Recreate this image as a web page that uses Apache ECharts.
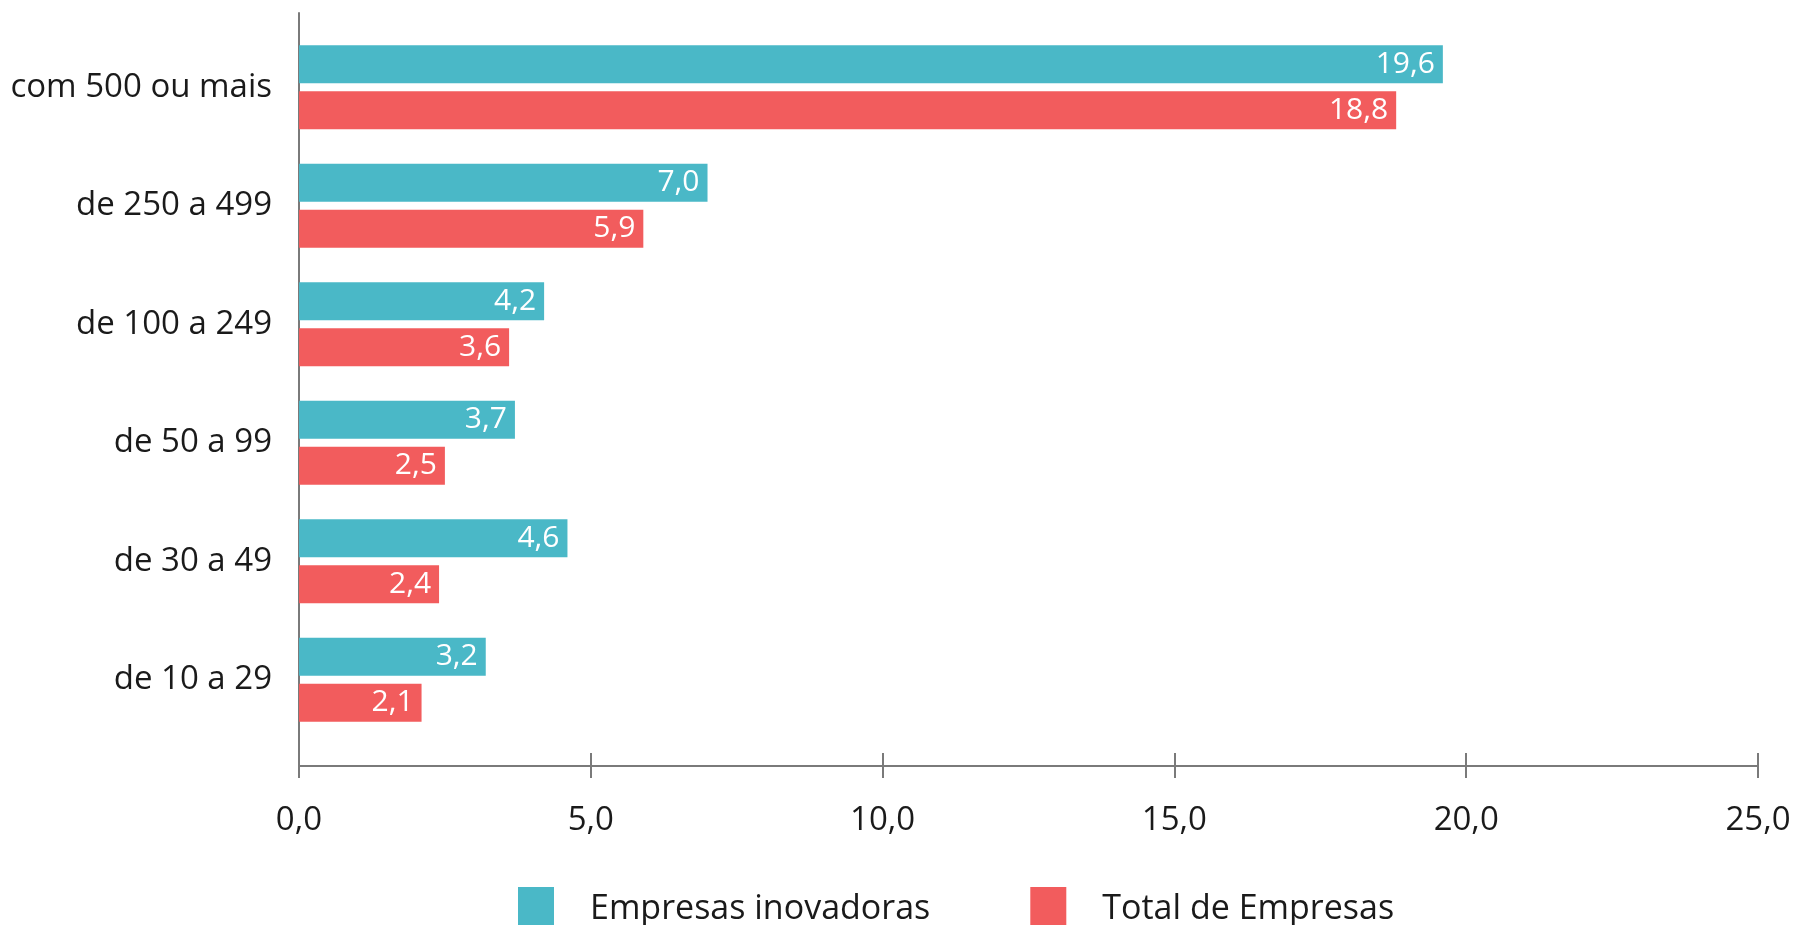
<!DOCTYPE html>
<html>
<head>
<meta charset="utf-8">
<script src="https://cdn.jsdelivr.net/npm/echarts@6/dist/echarts.min.js"></script>
<style>
html,body{margin:0;padding:0;background:#fff;}
#chart{width:1800px;height:925px;}
</style>
</head>
<body>
<div id="chart"></div>
<script>
const categories = ['com 500 ou mais', 'de 250 a 499', 'de 100 a 249', 'de 50 a 99', 'de 30 a 49', 'de 10 a 29'];
const inovadoras = [19.6, 7.0, 4.2, 3.7, 4.6, 3.2];
const totalEmpresas = [18.8, 5.9, 3.6, 2.5, 2.4, 2.1];
const tickLabels = ['0,0', '5,0', '10,0', '15,0', '20,0', '25,0'];
const seriesNames = ['Empresas inovadoras', 'Total de Empresas'];

const FONT = '"Open Sans", "Noto Sans", sans-serif';
const AXIS_COLOR = '#7a7a7a';
const TEAL = '#4ab8c7';
const RED = '#f25c5d';

function fmt(v) { return v.toFixed(1).replace('.', ','); }

const chart = echarts.init(document.getElementById('chart'), null, {renderer: 'canvas'});

const barLabel = {
  show: true,
  position: 'insideRight',
  distance: 8,
  color: '#ffffff',
  fontFamily: FONT,
  fontSize: 30,
  formatter: p => fmt(p.value)
};

chart.setOption({
  animation: false,
  backgroundColor: '#ffffff',
  grid: [
    {left: 299, right: 42, top: 28, height: 711},
    {left: 299, right: 42, top: 13, height: 753}
  ],
  xAxis: [
    {gridIndex: 0, type: 'value', min: 0, max: 25, interval: 5, show: false},
    {
      gridIndex: 1, type: 'value', min: 0, max: 25, interval: 5, position: 'bottom',
      axisLine: {show: true, lineStyle: {color: AXIS_COLOR, width: 2}},
      axisTick: {show: true, inside: false, length: 12, lineStyle: {color: AXIS_COLOR, width: 2}},
      axisLabel: {
        show: true, margin: 38, color: '#1a1a1a', fontFamily: FONT, fontSize: 33,
        formatter: v => tickLabels[Math.round(v / 5)]
      },
      splitLine: {show: false}
    },
    {
      gridIndex: 1, type: 'value', min: 0, max: 25, interval: 5, position: 'bottom', offset: 0,
      axisLine: {show: false},
      axisTick: {show: true, inside: true, length: 13, lineStyle: {color: AXIS_COLOR, width: 2}},
      axisLabel: {show: false},
      splitLine: {show: false}
    }
  ],
  yAxis: [
    {
      gridIndex: 0, type: 'category', data: categories, inverse: true,
      axisLine: {show: false}, axisTick: {show: false},
      axisLabel: {margin: 27, color: '#1a1a1a', fontFamily: FONT, fontSize: 33}
    },
    {
      gridIndex: 1, type: 'value', min: 0, max: 1, position: 'left',
      axisLine: {show: true, lineStyle: {color: AXIS_COLOR, width: 2}},
      axisTick: {show: false}, axisLabel: {show: false}, splitLine: {show: false}
    }
  ],
  legend: {
    data: seriesNames,
    left: 513,
    top: 882,
    icon: 'rect',
    itemWidth: 36,
    itemHeight: 44,
    itemGap: 100,
    textStyle: {color: '#1a1a1a', fontFamily: FONT, fontSize: 34, padding: [0, 0, 0, 31]}
  },
  series: [
    {
      name: seriesNames[0], type: 'bar', xAxisIndex: 0, yAxisIndex: 0,
      data: inovadoras, barWidth: 38, barGap: '21%',
      itemStyle: {color: TEAL}, label: barLabel
    },
    {
      name: seriesNames[1], type: 'bar', xAxisIndex: 0, yAxisIndex: 0,
      data: totalEmpresas, barWidth: 38, barGap: '21%',
      itemStyle: {color: RED}, label: barLabel
    }
  ]
});
</script>
</body>
</html>
